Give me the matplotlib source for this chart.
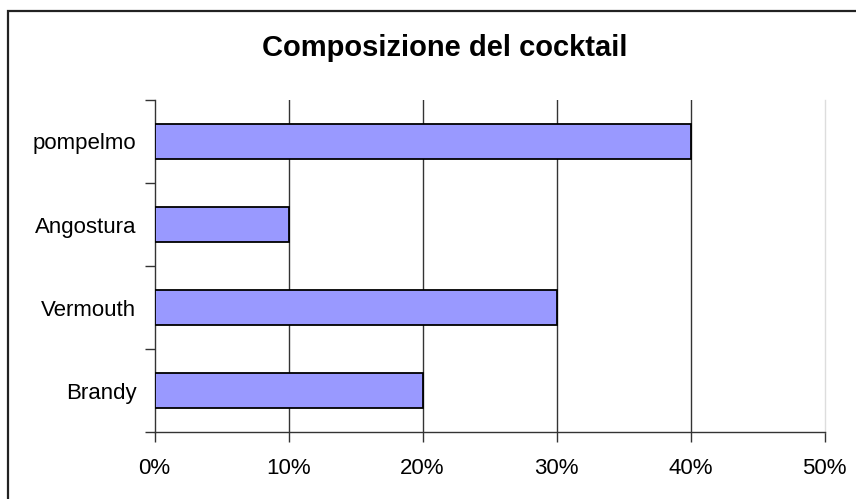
import matplotlib
matplotlib.use("Agg")
import matplotlib.pyplot as plt
from matplotlib.patches import Rectangle
from matplotlib.ticker import FixedLocator, FuncFormatter

categories = ["Brandy", "Vermouth", "Angostura", "pompelmo"]
values = [20, 30, 10, 40]
x_ticks = [0, 10, 20, 30, 40, 50]
title = "Composizione del cocktail"

plt.rcParams['font.family'] = ['Liberation Sans', 'DejaVu Sans']

fig = plt.figure(figsize=(8.56, 4.99), dpi=100)
W, H = 856, 499

# outer frame (cropped at right and bottom)
fig.patches.append(Rectangle((8 / W, -0.1), 1.2, 1 - 11 / H + 0.1,
                             transform=fig.transFigure, fill=False,
                             edgecolor='#222222', linewidth=1.6))

ax = fig.add_axes([154.5 / W, 1 - 432 / H, 670 / W, 332 / H])
y = list(range(len(categories)))
ax.barh(y, values, height=0.42, color='#9999FF', edgecolor='black', linewidth=1.3, zorder=3)

ax.set_xlim(0, 50)
ax.set_ylim(-0.5, len(categories) - 0.5)

ax.xaxis.set_major_locator(FixedLocator(x_ticks))
ax.xaxis.set_major_formatter(FuncFormatter(lambda v, p: f"{int(v)}%"))
for xv in x_ticks[1:-1]:
    ax.axvline(xv, color='#333333', linewidth=1.0, zorder=1)

ax.yaxis.set_major_locator(FixedLocator([i - 0.5 for i in range(len(categories) + 1)]))
ax.yaxis.set_major_formatter(FuncFormatter(lambda v, p: ""))
ax.yaxis.set_minor_locator(FixedLocator(y))
ax.set_yticklabels(categories, minor=True)

ax.tick_params(axis='y', which='major', length=7, width=1.0, color='#333333', direction='out')
ax.tick_params(axis='y', which='minor', length=0, pad=13, labelsize=16)
ax.tick_params(axis='x', which='major', length=7, width=1.0, color='#333333', direction='out', pad=11.5, labelsize=16)

ax.spines['top'].set_visible(False)
ax.spines['right'].set_color('#dddddd')
ax.spines['right'].set_linewidth(1.0)
ax.spines['left'].set_color('#333333')
ax.spines['bottom'].set_color('#333333')
ax.spines['left'].set_linewidth(1.0)
ax.spines['bottom'].set_linewidth(1.0)

fig.text(445 / W, 1 - 48 / H, title, ha='center', va='center', fontsize=21, fontweight='bold')

fig.savefig("out.png", dpi=100)
